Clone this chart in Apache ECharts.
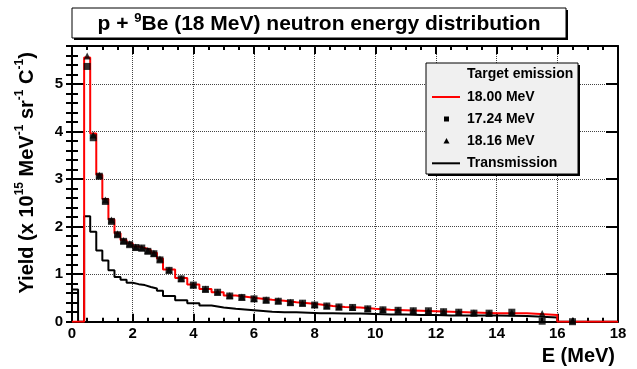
<!DOCTYPE html>
<html><head><meta charset="utf-8">
<script src="https://cdn.jsdelivr.net/npm/echarts@6/dist/echarts.min.js"></script>
<style>html,body{margin:0;padding:0;background:#fff;}#c{width:637px;height:369px;}</style>
</head><body><div id="c"></div>
<script>
// ---- data (bin edges in MeV, yields in 10^15 MeV^-1 sr^-1 C^-1) ----
const binEdges = [0,0.2,0.4,0.6,0.8,1.0,1.2,1.4,1.6,1.8,2.0,2.2,2.4,2.6,2.8,3.0,
  3.4,3.8,4.2,4.6,5.0,5.4,5.8,6.2,6.6,7.0,7.4,7.8,8.2,8.6,9.0,
  9.5,10,10.5,11,11.5,12,12.5,13,13.5,14,15,16,17,18];
const emission1800 = [0,0,5.56,3.96,3.09,2.58,2.15,1.86,1.72,1.65,1.58,1.55,1.51,1.45,1.33,
  1.10,0.92,0.78,0.69,0.62,0.55,0.52,0.49,0.46,0.44,0.41,0.39,0.36,0.33,0.31,
  0.30,0.27,0.25,0.24,0.23,0.22,0.21,0.20,0.19,0.18,
  0.18,0.14,0,0];
const emission1724 = [null,null,5.37,3.87,3.06,2.53,2.11,1.83,1.69,1.62,1.56,1.55,1.48,1.43,1.30,
  1.08,0.90,0.77,0.68,0.62,0.54,0.51,0.48,0.45,0.43,0.40,0.39,0.35,0.33,0.31,
  0.30,0.27,0.25,0.24,0.23,0.23,0.21,0.20,0.18,0.18,
  0.20,0.01,0.0,null];
const emission1816 = [null,null,5.59,3.93,3.08,2.56,2.14,1.85,1.71,1.64,1.57,1.55,1.50,1.44,1.32,
  1.09,0.91,0.77,0.69,0.62,0.55,0.52,0.49,0.46,0.44,0.41,0.39,0.36,0.33,0.31,
  0.30,0.27,0.25,0.24,0.23,0.22,0.21,0.20,0.19,0.18,
  0.19,0.17,0.02,null];
const transmission = [0.68,0,2.22,1.89,1.50,1.29,1.08,0.94,0.88,0.82,0.79,0.77,0.73,0.70,0.65,
  0.54,0.45,0.39,0.34,0.30,0.27,0.25,0.23,0.21,0.20,0.20,0.19,0.18,0.18,0.17,
  0.17,0.16,0.15,0.15,0.14,0.14,0.13,0.13,0.13,0.13,
  0.12,0.09,0,0];
const xTickLabels = [0,2,4,6,8,10,12,14,16,18];
const yTickLabels = [0,1,2,3,4,5];
const legendNames = ['18.00 MeV','17.24 MeV','18.16 MeV','Transmission'];

// ---- helpers ----
function stepData(vals){
  const d = vals.map((v,i)=>[binEdges[i], v]);
  d.push([binEdges[vals.length], vals[vals.length-1]]);
  return d;
}
function markerData(vals){
  const d = [];
  vals.forEach((v,i)=>{ if(v!==null) d.push([(binEdges[i]+binEdges[i+1])/2, v]); });
  return d;
}
const FONT = '"Liberation Sans", Arial, Helvetica, sans-serif';
const tickStyle = {color:'#000', width:2};

const chart = echarts.init(document.getElementById('c'), null, {renderer:'canvas'});
const baseX = {type:'value', min:0, max:18, interval:2, gridIndex:0};
const baseY = {type:'value', min:0, max:5.8, gridIndex:0};
const option = {
  animation:false,
  backgroundColor:'#fff',
  grid:{left:72, right:19, top:46, bottom:47.3, containLabel:false, outerBoundsMode:'none'},
  xAxis:[
    Object.assign({}, baseX, {
      position:'bottom',
      axisLine:{show:true, onZero:false, lineStyle:{color:'#000', width:2}},
      axisTick:{show:true, inside:true, length:8, lineStyle:tickStyle},
      minorTick:{show:true, splitNumber:4, length:4, lineStyle:tickStyle},
      axisLabel:{show:true, margin:5, color:'#000', fontSize:15, fontWeight:'bold', fontFamily:FONT,
        formatter:v=> xTickLabels.indexOf(v)>=0 ? String(v) : ''},
      splitLine:{show:true, lineStyle:{type:'dotted', color:'#444', width:1}},
      name:'E (MeV)', nameLocation:'end', nameGap:-3,
      nameTextStyle:{color:'#000', fontSize:20, fontWeight:'bold', fontFamily:FONT,
        align:'right', verticalAlign:'top', padding:[25,0,0,0]}
    }),
    Object.assign({}, baseX, {
      position:'top',
      axisLine:{show:true, onZero:false, lineStyle:{color:'#000', width:2}},
      axisTick:{show:true, inside:true, length:8, lineStyle:tickStyle},
      minorTick:{show:true, splitNumber:4, length:4, lineStyle:tickStyle},
      axisLabel:{show:false}, splitLine:{show:false}
    })
  ],
  yAxis:[
    Object.assign({}, baseY, {
      position:'left', interval:1,
      axisLine:{show:true, onZero:false, lineStyle:{color:'#000', width:2}},
      axisTick:{show:true, inside:true, length:12, lineStyle:tickStyle},
      axisLabel:{show:true, margin:9, color:'#000', fontSize:15, fontWeight:'bold', fontFamily:FONT,
        showMaxLabel:false, formatter:v=> yTickLabels.indexOf(v)>=0 ? String(v) : ''},
      splitLine:{show:true, lineStyle:{type:'dotted', color:'#444', width:1}},
      name:'{n|Yield (x 10}{s|15}{n| MeV}{s|-1}{n| sr}{s|-1}{n| C}{s|-1}{n|)}',
      nameLocation:'middle', nameGap:32, nameRotate:90,
      nameTextStyle:{color:'#000', fontSize:20, fontWeight:'bold', fontFamily:FONT, padding:[0,0,0,22],
        rich:{
          n:{fontSize:20, fontWeight:'bold', fontFamily:FONT, color:'#000', lineHeight:26, verticalAlign:'middle'},
          s:{fontSize:12, fontWeight:'bold', fontFamily:FONT, color:'#000', lineHeight:12, verticalAlign:'top'}
        }}
    }),
    Object.assign({}, baseY, {
      position:'left', interval:0.2,
      axisLine:{show:false}, axisLabel:{show:false}, splitLine:{show:false},
      axisTick:{show:true, inside:true, length:6, lineStyle:tickStyle}
    }),
    Object.assign({}, baseY, {
      position:'right', interval:1,
      axisLine:{show:true, onZero:false, lineStyle:{color:'#000', width:2}},
      axisTick:{show:true, inside:true, length:12, lineStyle:tickStyle},
      axisLabel:{show:false}, splitLine:{show:false}
    }),
    Object.assign({}, baseY, {
      position:'right', interval:0.2,
      axisLine:{show:false}, axisLabel:{show:false}, splitLine:{show:false},
      axisTick:{show:true, inside:true, length:6, lineStyle:tickStyle}
    })
  ],
  series:[
    {type:'line', name:legendNames[3], step:'end', data:stepData(transmission), xAxisIndex:0, yAxisIndex:0,
      symbol:'none', showSymbol:false, lineStyle:{color:'#000', width:2}, itemStyle:{color:'#000'}, z:3, silent:true},
    {type:'line', name:legendNames[0], step:'end', data:stepData(emission1800), xAxisIndex:0, yAxisIndex:0,
      symbol:'none', showSymbol:false, lineStyle:{color:'#ff0000', width:2}, itemStyle:{color:'#ff0000'}, z:4, silent:true},
    {type:'scatter', name:legendNames[2], data:markerData(emission1816), xAxisIndex:0, yAxisIndex:0,
      symbol:'triangle', symbolSize:7, itemStyle:{color:'#000'}, z:5, silent:true},
    {type:'scatter', name:legendNames[1], data:markerData(emission1724), xAxisIndex:0, yAxisIndex:0,
      symbol:'rect', symbolSize:7, itemStyle:{color:'#000'}, z:6, silent:true}
  ],
  graphic:[
    // title box
    {type:'rect', shape:{x:74, y:10, width:494, height:30}, style:{fill:'#000'}, z:100, silent:true},
    {type:'rect', shape:{x:72, y:8, width:494, height:30}, style:{fill:'#fff', stroke:'#000', lineWidth:1}, z:101, silent:true},
    {type:'text', x:319, y:24, z:102, silent:true,
      style:{text:'{n|p + }{s|9}{n|Be (18 MeV) neutron energy distribution}', align:'center', verticalAlign:'middle',
        fill:'#000', font:'bold 21px '+FONT,
        rich:{
          n:{fontSize:21, fontWeight:'bold', fontFamily:FONT, fill:'#000', lineHeight:25, verticalAlign:'middle'},
          s:{fontSize:13, fontWeight:'bold', fontFamily:FONT, fill:'#000', lineHeight:13, verticalAlign:'top'}
        }}},
    // legend box
    {type:'rect', shape:{x:428, y:65, width:152, height:111}, style:{fill:'#000'}, z:100, silent:true},
    {type:'rect', shape:{x:426, y:63, width:152, height:111}, style:{fill:'#f0f0f0', stroke:'#000', lineWidth:1}, z:101, silent:true},
    {type:'text', x:467, y:74.5, z:102, silent:true, style:{text:'Target emission', font:'bold 14px '+FONT, fill:'#000', verticalAlign:'middle'}},
    {type:'line', shape:{x1:432, y1:97, x2:460, y2:97}, style:{stroke:'#ff0000', lineWidth:2}, z:102, silent:true},
    {type:'text', x:467, y:97, z:102, silent:true, style:{text:legendNames[0], font:'bold 14px '+FONT, fill:'#000', verticalAlign:'middle'}},
    {type:'rect', shape:{x:444, y:116.5, width:5, height:5}, style:{fill:'#000'}, z:102, silent:true},
    {type:'text', x:467, y:119.3, z:102, silent:true, style:{text:legendNames[1], font:'bold 14px '+FONT, fill:'#000', verticalAlign:'middle'}},
    {type:'polygon', shape:{points:[[446.5,138],[443.5,143.5],[449.5,143.5]]}, style:{fill:'#000'}, z:102, silent:true},
    {type:'text', x:467, y:141, z:102, silent:true, style:{text:legendNames[2], font:'bold 14px '+FONT, fill:'#000', verticalAlign:'middle'}},
    {type:'line', shape:{x1:432, y1:163.3, x2:460, y2:163.3}, style:{stroke:'#000', lineWidth:2}, z:102, silent:true},
    {type:'text', x:467, y:163.3, z:102, silent:true, style:{text:legendNames[3], font:'bold 14px '+FONT, fill:'#000', verticalAlign:'middle'}}
  ]
};
chart.setOption(option);
</script>
</body></html>
